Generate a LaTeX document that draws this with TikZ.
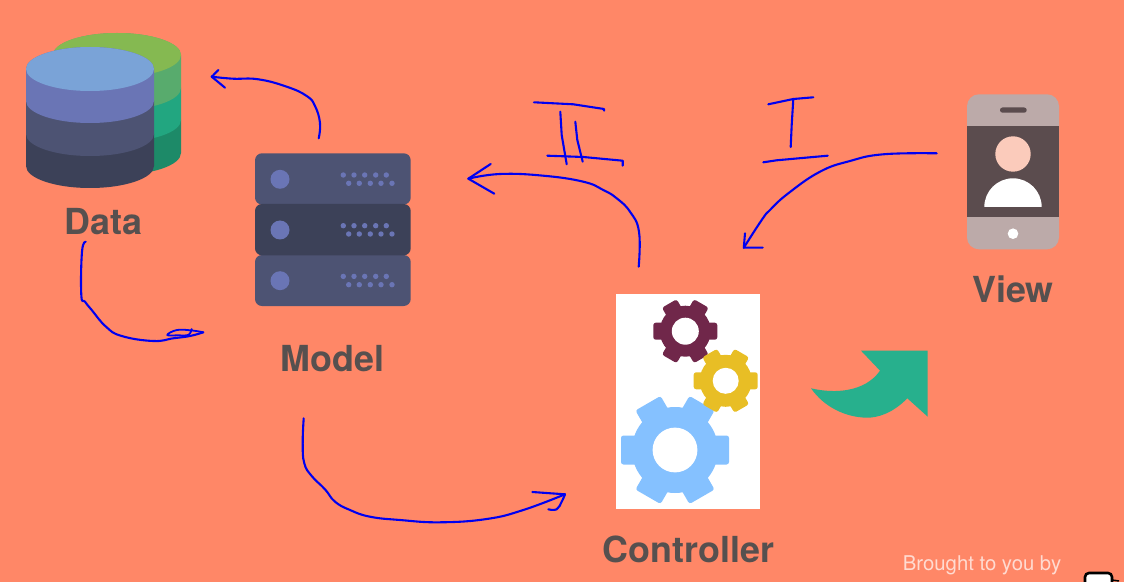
\documentclass[tikz,border=0pt]{standalone}
\usepackage{fontspec}
\setmainfont{TeX Gyre Heros}
\definecolor{bgc}{HTML}{FF8767}
\definecolor{labelc}{HTML}{56504F}
\definecolor{pen}{HTML}{0000F0}
\definecolor{srvA}{HTML}{4D5373}
\definecolor{srvB}{HTML}{3C4158}
\definecolor{srvDot}{HTML}{6A75B5}
\definecolor{phoneBody}{HTML}{BCAAA9}
\definecolor{phoneScreen}{HTML}{5B4C4E}
\definecolor{phoneFace}{HTML}{FBCBBB}
\definecolor{arrowGreen}{HTML}{27B08D}
\definecolor{gearBlue}{HTML}{85C1FF}
\definecolor{gearMaroon}{HTML}{70274A}
\definecolor{gearYellow}{HTML}{E8BE25}
\definecolor{topgreen}{HTML}{85B951}
\definecolor{greenB}{HTML}{58AB6D}
\definecolor{greenC}{HTML}{22A680}
\definecolor{greenD}{HTML}{1D8A68}
\definecolor{cylA}{HTML}{7AA3D7}
\definecolor{cylB}{HTML}{6A75B5}
\newcommand{\cylayer}[4]{% cx, cy, height, colour
  \fill[#4] (#1-64,#2) -- ++(0,#3) arc[start angle=180,end angle=0,x radius=64,y radius=22]
    -- ++(0,-#3) arc[start angle=0,end angle=-180,x radius=64,y radius=22] -- cycle;}
\newcommand{\drawgear}[7]{% cx, cy, R, body, tip half width, hole, colour
  \begin{scope}[shift={(#1,#2)}]
    \foreach \a in {0,60,120}{
      \fill[#7,rotate=\a,rounded corners=2.5] (-#3,-#5) rectangle (#3,#5);}
    \fill[#7] (0,0) circle[radius=#4];
    \fill[white] (0,0) circle[radius=#6];
  \end{scope}}
\tikzset{
  pentrace/.style={draw=pen,line width=2.1,line cap=round,line join=round},
  caption/.style={font=\bfseries\fontsize{36}{40}\selectfont,text=labelc,inner sep=0pt,anchor=center},
  rack/.style={rounded corners=7},
}
\begin{document}
\begin{tikzpicture}[x=1bp,y=-1bp]
\useasboundingbox (0,0) rectangle (1124,582);
\clip (0,0) rectangle (1124,582);
\fill[bgc] (0,0) rectangle (1124,582);

% back cylinder
\cylayer{117}{120}{33}{greenD}
\cylayer{117}{88}{32}{greenC}
\cylayer{117}{55}{33}{greenB}
\fill[topgreen] (117,55) ellipse[x radius=64,y radius=22];
% front cylinder
\cylayer{90}{134}{32}{srvB}
\cylayer{90}{101}{33}{srvA}
\cylayer{90}{69}{32}{cylB}
\fill[cylA] (90,69) ellipse[x radius=64,y radius=22];
\node[caption] (data) at (103.5,222) {Data};

% server
\fill[srvA,rack] (255,153.3) rectangle (410.7,204.5);
\fill[srvA,rack] (255,255) rectangle (410.7,306);
\fill[srvB,rack] (255,204) rectangle (410.7,255.3);
\foreach \yy in {179.3,230,280.7}{
  \fill[srvDot] (280,\yy) circle[radius=9.5];
  \foreach \xx in {343.3,354,364.7,375.7,386.3}
    \fill[srvDot] (\xx,\yy-4.3) circle[radius=2.7];
  \foreach \xx in {348.7,359.3,370.3,381,392}
    \fill[srvDot] (\xx,\yy+4) circle[radius=2.7];
}
\node[caption] (model) at (332.5,359) {Model};

% controller
\fill[white] (615.7,294.3) rectangle (760,509.3);
\drawgear{675}{450}{54}{43}{14.5}{22.4}{gearBlue}
\drawgear{685.3}{331.2}{32}{25.5}{8.5}{13.5}{gearMaroon}
\drawgear{725.7}{380.8}{32}{26}{8.5}{13}{gearYellow}
\node[caption] (controller) at (688.5,549) {Controller};

% green curved arrow
\fill[arrowGreen] (811,388.3) .. controls (835,394) and (865,392) .. (880,370.7)
  -- (861,350.7) -- (927.7,350.7) -- (927.7,416.7) -- (907.3,398.3)
  .. controls (893,413) and (878,418) .. (866,417.7)
  .. controls (845,417) and (824,407) .. (811,388.3) -- cycle;

% phone
\fill[phoneBody,rounded corners=12] (967,94.3) rectangle (1059,249.3);
\fill[phoneScreen] (967,126) rectangle (1059,217.3);
\fill[phoneScreen,rounded corners=2.5] (1000,107.5) rectangle (1026.7,112.7);
\fill[phoneFace] (1013,154) circle[radius=17.7];
\fill[white] (984.3,207) arc[start angle=180,end angle=360,radius=28.7] -- cycle;
\fill[white] (1013,233.7) circle[radius=5.3];
\node[caption] (view) at (1013,289) {View};

% hand-drawn connectors
\coordinate (mdS) at (318.7,138.3);
\coordinate (mdE) at (211.7,76.7);
\coordinate (dmS) at (85.7,241.7);
\coordinate (dmE) at (203.3,332.3);
\coordinate (mcS) at (303.7,418.3);
\coordinate (mcE) at (565,494.3);
\coordinate (cmS) at (638.7,266.7);
\coordinate (cmE) at (468.3,178.7);
\coordinate (vcS) at (936.7,153.3);
\coordinate (vcE) at (743.8,247.7);

\draw[pentrace] plot[smooth,tension=.75] coordinates {(mdS) (320,123) (315,106) (306.7,96) (286.7,86.7) (258.3,79.3) (233,78.7) (mdE)};
\draw[pentrace] (218.3,70) -- (213,75.5) -- (mdE) -- (225,87.7);

\draw[pentrace] plot[smooth,tension=.75] coordinates {(dmS) (82,251.7) (81.3,295) (85,301.7) (91.7,310) (106,326.7) (121.7,336) (153.3,341) (173.3,338.3) (190,336) (dmE)};
\draw[pentrace,line width=1.8] plot[smooth,tension=.7] coordinates {(dmE) (192,330.5) (177,330) (167.3,335) (178.3,335.3) (188.3,335) (191.7,329)};

\draw[pentrace] plot[smooth,tension=.75] coordinates {(mcS) (302.7,443.3) (304.3,463.3) (311.7,476) (325,489.3) (335,501.7) (350,510) (370,516.7) (400,520) (440,522.3) (486.7,519) (523.3,510) (mcE)};
\draw[pentrace] (532.3,492) -- (mcE);
\draw[pentrace] plot[smooth,tension=.7] coordinates {(mcE) (561.7,501.7) (556.7,509.3) (548.3,509.3)};

\draw[pentrace] plot[smooth,tension=.75] coordinates {(cmS) (639,231.7) (630,211.7) (616.7,198.3) (603.3,190) (583.3,181.7) (543.3,175.7) (500,174) (cmE)};
\draw[pentrace] (490.7,164) -- (cmE) -- (494.3,193.7);

\draw[pentrace] plot[smooth,tension=.75] coordinates {(vcS) (883.3,154.3) (850,161) (820,171.7) (788.3,193.3) (770,210) (761.7,220) (vcE)};
\draw[pentrace] (745,233.3) -- (vcE) -- (762.7,247.7);

% hand-written numerals
\draw[pentrace] (534,102.3) -- (573.3,104.3) -- (604,109) -- (604,110.7);
\draw[pentrace] (560.3,111.7) -- (561.7,135) -- (566.7,164.3);
\draw[pentrace] (575.3,121.7) -- (577.3,140) -- (582.7,161.7);
\draw[pentrace] (547.3,155.7) -- (583.3,157) -- (622.7,160.7) -- (622.7,165.7);

\draw[pentrace] (768.3,104.3) -- (793.3,99) -- (813.3,97.3);
\draw[pentrace] (793.3,99) -- (791.7,125) -- (790.7,147);
\draw[pentrace] (763.3,162.3) -- (776.7,160.3) -- (827.7,155.7);

% footer
\node[font=\fontsize{20.4}{24}\selectfont,text=white!70!bgc,inner sep=0pt] (credit) at (982,565.5) {Brought to you by};
\draw[black,fill=white,line width=2.6,rounded corners=4] (1085,573) rectangle (1112,600);
\draw[black,line width=1.5] (1112,580) -- (1119,581);
\end{tikzpicture}
\end{document}
